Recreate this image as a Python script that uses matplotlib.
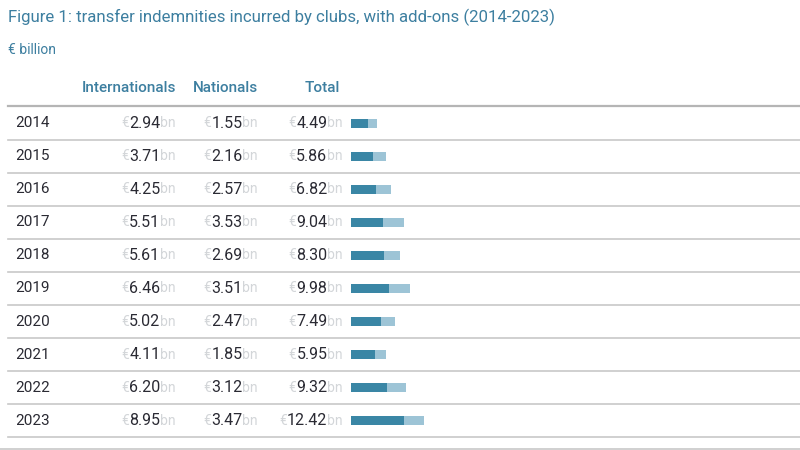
import matplotlib
matplotlib.use("Agg")
import matplotlib.pyplot as plt
import numpy as np

plt.rcParams["font.family"] = ["Roboto", "DejaVu Sans"]

years = ["2014", "2015", "2016", "2017", "2018", "2019", "2020", "2021", "2022", "2023"]
internationals = [2.94, 3.71, 4.25, 5.51, 5.61, 6.46, 5.02, 4.11, 6.20, 8.95]
nationals = [1.55, 2.16, 2.57, 3.53, 2.69, 3.51, 2.47, 1.85, 3.12, 3.47]
totals = [4.49, 5.86, 6.82, 9.04, 8.30, 9.98, 7.49, 5.95, 9.32, 12.42]
headers = ["Internationals", "Nationals", "Total"]

TEAL = "#3d7fa0"
DARK = "#3a86a5"
LIGHT = "#9dc4d6"
GREY = "#c8c8c8"
FAINT = "#d3d6d9"
INK = "#2a2a33"

W, H = 800, 450
ROW0, STEP = 123, 33.1          # pixel y of first row, row spacing
COL_X = [176, 258, 343]         # right edge of each value column (px)
BAR_X0, PX_PER_BN = 351, 5.88

fig = plt.figure(figsize=(8, 4.5), dpi=100)
ax = fig.add_axes([0, 0, 1, 1])
ax.set_xlim(0, W)
ylo, yhi = -ROW0 / STEP, (H - ROW0) / STEP
ax.set_ylim(yhi, ylo)
ax.axis("off")

fig.text(8 / W, 1 - 17 / H, "Figure 1: transfer indemnities incurred by clubs, with add-ons (2014-2023)",
         color=TEAL, fontsize=12.1, va="center", ha="left")
fig.text(8 / W, 1 - 50 / H, "€ billion", color=TEAL, fontsize=10, va="center", ha="left")

head_y = -(ROW0 - 88) / STEP
for x, h in zip(COL_X, headers):
    xr = x if h != "Total" else 340
    ax.text(xr, head_y, h, color=TEAL, fontsize=11, fontweight="medium", ha="right", va="center")

# horizontal rules
ax.axhline(-0.52, xmin=8 / W, xmax=1, color="#b5b5b5", lw=1.6)
for i in range(len(years)):
    ax.axhline(i + 0.5, xmin=8 / W, xmax=1, color=GREY, lw=1.2)
ax.axhline((449 - ROW0) / STEP, xmin=0, xmax=1, color=GREY, lw=1.2)


def money(x, y, val):
    bn = ax.text(x, y, "bn", color=FAINT, fontsize=10, ha="right", va="center")
    num = ax.annotate(f"{val:.2f}", xy=(0, 0.5), xycoords=bn, color=INK, fontsize=11.5,
                      ha="right", va="center")
    ax.annotate("€", xy=(0, 0.5), xycoords=num, color=FAINT, fontsize=10,
                ha="right", va="center")


for i, yr in enumerate(years):
    ax.text(15, i, yr, color=INK, fontsize=11, ha="left", va="center")
    for x, v in zip(COL_X, (internationals[i], nationals[i], totals[i])):
        money(x, i, v)

bax = fig.add_axes([BAR_X0 / W, 0, (W - BAR_X0) / W, 1])
bax.set_xlim(0, (W - BAR_X0) / PX_PER_BN)
bax.set_ylim(yhi, ylo)
bax.axis("off")
ypos = np.arange(len(years))
bax.barh(ypos, internationals, height=9 / STEP, color=DARK, linewidth=0)
bax.barh(ypos, nationals, left=internationals, height=9 / STEP, color=LIGHT, linewidth=0)

fig.savefig("out.png", dpi=100)
